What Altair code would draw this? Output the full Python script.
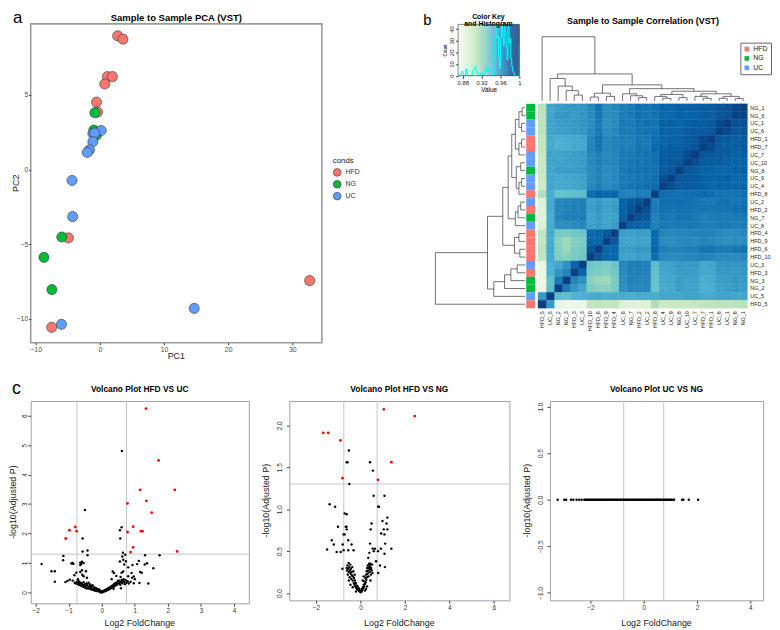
import altair as alt
import pandas as pd

FONT = "Liberation Sans"
COND_DOMAIN = ["HFD", "NG", "UC"]
COND_COLORS = ["#F8766D", "#00BA38", "#619CFF"]
GNBU = ["#f7fcf0", "#e0f3db", "#ccebc5", "#a8ddb5", "#7bccc4", "#4eb3d3", "#2b8cbe", "#0868ac", "#084081"]

# ---------------- panel a : PCA ----------------
PCA_HFD_PC1 = [2.78, 3.60, 1.19, 1.96, 0.77, -0.52, -0.36, -4.90, -7.50, 32.70]
PCA_HFD_PC2 = [8.96, 8.74, 6.23, 6.23, 5.73, 4.52, 3.85, -4.58, -10.57, -7.44]
PCA_NG_PC1 = [-0.77, -0.52, -0.93, -5.93, -8.71, -7.47]
PCA_NG_PC2 = [3.81, 2.31, 2.64, -4.52, -5.88, -8.04]
PCA_UC_PC1 = [0.21, -1.08, -0.80, -1.08, -1.60, -1.96, -4.33, -4.23, -5.98, 14.70]
PCA_UC_PC2 = [2.62, 2.42, 2.45, 1.87, 1.32, 1.15, -0.73, -3.15, -10.37, -9.30]

# ---------------- panel b : correlation heatmap ----------------
SAMPLES = ["NG_1", "NG_6", "UC_1", "UC_6", "HFD_1", "HFD_7", "UC_7", "UC_10", "NG_8",
           "UC_9", "UC_4", "HFD_8", "UC_2", "HFD_2", "NG_7", "UC_8", "HFD_4", "HFD_9",
           "HFD_6", "HFD_10", "UC_3", "HFD_3", "NG_3", "NG_2", "UC_5", "HFD_5"]
# correlation x 1000, rows/cols in SAMPLES order
CORR = [
    [1000, 988, 984, 983, 980, 980, 978, 977, 978, 976, 976, 972, 970, 972, 968, 966, 962, 960, 970, 962, 957, 956, 955, 954, 950, 910],
    [988, 1000, 983, 982, 978, 979, 977, 976, 978, 975, 975, 971, 969, 972, 968, 966, 961, 960, 969, 961, 956, 955, 956, 955, 950, 908],
    [984, 983, 1000, 987, 980, 979, 979, 978, 976, 978, 977, 970, 972, 970, 967, 968, 961, 959, 967, 960, 957, 955, 954, 953, 951, 907],
    [983, 982, 987, 1000, 981, 980, 980, 979, 976, 977, 977, 971, 971, 970, 967, 968, 962, 960, 968, 961, 956, 955, 953, 952, 951, 908],
    [980, 978, 980, 981, 1000, 986, 981, 979, 977, 977, 976, 973, 968, 969, 966, 966, 964, 962, 970, 963, 950, 949, 948, 947, 949, 906],
    [980, 979, 979, 980, 986, 1000, 982, 980, 977, 978, 977, 974, 968, 969, 965, 966, 964, 963, 970, 964, 949, 949, 947, 946, 949, 905],
    [978, 977, 979, 980, 981, 982, 1000, 985, 980, 980, 979, 972, 970, 969, 968, 968, 963, 961, 965, 962, 954, 953, 952, 951, 951, 903],
    [977, 976, 978, 979, 979, 980, 985, 1000, 982, 981, 980, 972, 971, 970, 969, 968, 963, 962, 965, 962, 954, 953, 952, 951, 951, 902],
    [978, 978, 976, 976, 977, 977, 980, 982, 1000, 981, 980, 971, 972, 971, 970, 968, 962, 961, 964, 961, 955, 954, 954, 953, 950, 902],
    [976, 975, 978, 977, 977, 978, 980, 981, 981, 1000, 985, 972, 971, 970, 968, 968, 962, 960, 964, 961, 952, 951, 950, 949, 950, 901],
    [976, 975, 977, 977, 976, 977, 979, 980, 980, 985, 1000, 973, 972, 971, 969, 969, 963, 961, 965, 962, 951, 950, 949, 948, 950, 900],
    [972, 971, 970, 971, 973, 974, 972, 972, 971, 972, 973, 1000, 966, 967, 964, 965, 975, 974, 976, 973, 940, 939, 937, 936, 948, 912],
    [970, 969, 972, 971, 968, 968, 970, 971, 972, 971, 972, 966, 1000, 984, 981, 976, 953, 951, 955, 952, 965, 964, 963, 962, 948, 887],
    [972, 972, 970, 970, 969, 969, 969, 970, 971, 970, 971, 967, 984, 1000, 983, 977, 954, 952, 956, 953, 966, 965, 964, 962, 948, 886],
    [968, 968, 967, 967, 966, 965, 968, 969, 970, 968, 969, 964, 981, 983, 1000, 978, 952, 950, 954, 951, 966, 965, 965, 963, 947, 886],
    [966, 966, 968, 968, 966, 966, 968, 968, 968, 968, 969, 965, 976, 977, 978, 1000, 953, 951, 954, 952, 962, 961, 960, 959, 948, 888],
    [962, 961, 961, 962, 964, 964, 963, 963, 962, 962, 963, 975, 953, 954, 952, 953, 1000, 981, 976, 975, 935, 933, 930, 932, 948, 906],
    [960, 960, 959, 960, 962, 963, 961, 962, 961, 960, 961, 974, 951, 952, 950, 951, 981, 1000, 975, 976, 930, 928, 918, 925, 947, 904],
    [970, 969, 967, 968, 970, 970, 965, 965, 964, 964, 965, 976, 955, 956, 954, 954, 976, 975, 1000, 982, 932, 930, 920, 927, 949, 907],
    [962, 961, 960, 961, 963, 964, 962, 962, 961, 961, 962, 973, 952, 953, 951, 952, 975, 976, 982, 1000, 934, 931, 926, 929, 948, 905],
    [957, 956, 957, 956, 950, 949, 954, 954, 955, 952, 951, 940, 965, 966, 966, 962, 935, 930, 932, 934, 1000, 976, 958, 950, 946, 879],
    [956, 955, 955, 955, 949, 949, 953, 953, 954, 951, 950, 939, 964, 965, 965, 961, 933, 928, 930, 931, 976, 1000, 963, 956, 945, 878],
    [955, 956, 954, 953, 948, 947, 952, 952, 954, 950, 949, 937, 963, 964, 965, 960, 930, 918, 920, 926, 958, 963, 1000, 967, 938, 877],
    [954, 955, 953, 952, 947, 946, 951, 951, 953, 949, 948, 936, 962, 962, 963, 959, 932, 925, 927, 929, 950, 956, 967, 1000, 940, 880],
    [950, 950, 951, 951, 949, 949, 951, 951, 950, 950, 950, 948, 948, 948, 947, 948, 948, 947, 949, 948, 946, 945, 938, 940, 1000, 955],
    [910, 908, 907, 908, 906, 905, 903, 902, 902, 901, 900, 912, 887, 886, 886, 888, 906, 904, 907, 905, 879, 878, 877, 880, 955, 1000],
]
SAMPLE_GROUP = [s.split("_")[0] for s in SAMPLES]

# hierarchical clustering tree: (left, right, merge height), heights relative to root
TREE = (
    (
        (
            (
                (
                    ((("NG_1", "NG_6", 0.035), ("UC_1", "UC_6", 0.04), 0.07),
                     (("HFD_1", "HFD_7", 0.04), "UC_7", 0.07), 0.11),
                    (("UC_10", "NG_8", 0.05), (("UC_9", "UC_4", 0.04), "HFD_8", 0.07), 0.10),
                    0.15),
                ((("UC_2", "HFD_2", 0.05), "NG_7", 0.08), "UC_8", 0.11),
                0.19),
            (("HFD_4", "HFD_9", 0.07), ("HFD_6", "HFD_10", 0.06), 0.12),
            0.25),
        (((("UC_3", "HFD_3", 0.09), "NG_3", 0.16), "NG_2", 0.23), "UC_5", 0.35),
        0.42),
    "HFD_5",
    1.0,
)

# ---------------- panel c : volcano plots ----------------
FC_CUTS = [-0.75, 0.75]
P_CUT = 1.3

V1_BLACK_FC = [0.61, -0.51, 0.60, 0.55, 0.56, -0.58, -0.58, -0.43, -0.43, 0.64, 0.71, 1.31, 1.75, -1.16,
               -1.17, -1.82, -0.92, -0.89, -0.86, -0.65, -0.60, -1.52, -1.42, -1.42, -1.04, -1.10, 0.65,
               0.73, 0.93, 1.07, 1.12, 1.37, 1.56, 1.21, 1.16, 0.90, 0.92, 0.97, 0.65, 0.60, 0.33, 0.37,
               0.44, 0.87, 0.97, 1.14, 1.41, 0.57, 0.55, -0.60, -0.65, -0.48, -0.59, -0.55, -0.77, -0.83,
               -0.97, -0.65, -0.62, 0.80, 0.68, 1.00, 0.80, -0.72, -0.45, 0.30, 0.50, 1.30, -0.55, 0.62,
               -0.82, -0.78, -0.75, -0.72, -0.70, -0.68, -0.66, -0.64, -0.62, -0.60, -0.58, -0.56, -0.55,
               -0.53, -0.51, -0.50, -0.48, -0.46, -0.45, -0.43, -0.41, -0.40, -0.38, -0.36, -0.35, -0.33,
               -0.31, -0.30, -0.28, -0.26, -0.25, -0.23, -0.21, -0.20, -0.18, -0.16, -0.15, -0.13, -0.11,
               -0.10, -0.08, -0.06, -0.05, -0.03, -0.02, -0.04, 0.00, 0.01, 0.02, 0.03, 0.04, 0.05, 0.07,
               0.09, 0.10, 0.12, 0.14, 0.15, 0.17, 0.19, 0.20, 0.22, 0.24, 0.26, 0.28, 0.30, 0.32, 0.34,
               0.36, 0.38, 0.40, 0.42, 0.44, 0.46, 0.48, 0.50, 0.52, 0.54, 0.56, 0.58, 0.60, 0.62, 0.64,
               0.66, 0.68, 0.70, 0.72, 0.75, 0.78, 0.82, -0.88, -0.70, -0.52, -0.34, 0.18, 0.36, 0.58]
V1_BLACK_P = [4.80, 2.80, 2.21, 2.11, 1.83, 1.83, 1.39, 1.42, 1.26, 1.35, 1.28, 1.26, 1.26, 1.24,
              1.09, 0.96, 0.98, 1.00, 0.97, 1.01, 1.04, 0.72, 0.72, 0.36, 0.39, 0.35, 1.11,
              1.06, 0.93, 0.96, 1.07, 0.99, 0.82, 0.67, 0.69, 0.66, 0.50, 0.54, 0.71, 0.67, 0.71, 0.66,
              0.56, 0.36, 0.31, 0.32, 0.30, 0.52, 1.05, 0.75, 0.69, 0.72, 0.60, 0.55, 0.67, 0.58,
              0.43, 0.93, 0.96, 0.85, 0.95, 0.45, 0.55, 0.45, 0.50, 0.45, 0.40, 0.95, 1.00, 1.22,
              0.33, 0.30, 0.36, 0.28, 0.32, 0.25, 0.34, 0.29, 0.22, 0.31, 0.26, 0.19, 0.35,
              0.24, 0.28, 0.16, 0.21, 0.30, 0.13, 0.25, 0.18, 0.33, 0.12, 0.22, 0.27, 0.15,
              0.10, 0.20, 0.24, 0.08, 0.14, 0.18, 0.06, 0.11, 0.15, 0.05, 0.09, 0.12, 0.04,
              0.07, 0.10, 0.03, 0.06, 0.02, 0.04, 0.00, 0.01, 0.00, 0.03, 0.01, 0.05, 0.02, 0.06,
              0.04, 0.08, 0.05, 0.10, 0.07, 0.12, 0.09, 0.15, 0.11, 0.17, 0.13, 0.20, 0.16, 0.23, 0.18,
              0.27, 0.21, 0.30, 0.24, 0.33, 0.27, 0.37, 0.30, 0.40, 0.33, 0.26, 0.36, 0.42, 0.31, 0.39,
              0.45, 0.35, 0.28, 0.41, 0.33, 0.38, 0.30, 0.40, 0.38, 0.18, 0.14, 0.08, 0.12, 0.14]
V1_RED_FC = [1.34, 1.72, 1.16, 2.21, 1.35, 0.78, 1.51, 0.95, 1.19, 1.23, 0.78, 0.95, 0.87, 2.28,
             -0.80, -0.98, -0.76, -1.09]
V1_RED_P = [6.24, 4.48, 3.48, 3.48, 3.11, 3.02, 2.71, 2.23, 2.08, 2.08, 2.05, 1.53, 1.37, 1.39,
            2.22, 2.11, 2.08, 1.83]

V2_BLACK_FC = [-0.52, -0.62, -0.58, -0.50, 0.43, 0.56, 0.59, 1.08, -1.39, -1.14, 0.80, 0.83, -0.71, -0.62,
               1.21, 0.99, 1.17, 0.50, -1.01, -0.66, -0.63, -0.62, 0.46, 1.05, 1.21, -0.71, -0.76, 0.93,
               1.08, -1.29, -0.55, 0.43, -1.20, -0.80, -0.40, -1.50, -0.76, -0.55, -0.31, -1.07, -0.89,
               0.55, 0.65, 0.60, 0.92, 1.11, 1.39, 1.08, 0.79, -0.81, 1.10, 0.80, 0.70, 0.35, 0.40, 0.88,
               -0.62, -0.60, -0.58, -0.57, -0.55, -0.53, -0.52, -0.50, -0.49, -0.47, -0.46, -0.44, -0.43,
               -0.41, -0.40, -0.38, -0.37, -0.35, -0.34, -0.32, -0.30, -0.29, -0.27, -0.25, -0.23, -0.21,
               -0.19, -0.17, -0.15, -0.13, -0.11, -0.09, -0.07, -0.05, -0.03, -0.01, 0.01, 0.03, 0.05,
               0.07, 0.09, 0.11, 0.13, 0.15, 0.17, 0.18, 0.20, 0.22, 0.23, 0.25, 0.26, 0.28, 0.29, 0.30,
               0.32, 0.33, 0.35, 0.36, 0.38, 0.39, 0.41, 0.42, 0.44, 0.45, 0.47, 0.48, 0.50, 0.52, 0.54,
               0.30, 0.25, 0.20, -0.20, -0.35, -0.45, 0.15, 0.10, -0.26, -0.52, 0.45]
V2_BLACK_P = [1.70, 1.56, 1.56, 1.30, 1.56, 1.46, 1.16, 1.16, 1.06, 1.03, 1.03, 1.03, 0.95, 0.94,
              0.90, 0.86, 0.83, 0.83, 0.79, 0.79, 0.79, 0.76, 0.76, 0.76, 0.76, 0.70, 0.70, 0.71,
              0.70, 0.63, 0.63, 0.59, 0.58, 0.58, 0.58, 0.52, 0.51, 0.51, 0.51, 0.49, 0.49,
              0.53, 0.53, 0.50, 0.53, 0.59, 0.53, 0.47, 0.50, 0.29, 0.31, 0.24, 0.38, 0.42, 0.48, 0.33,
              0.30, 0.27, 0.33, 0.22, 0.29, 0.36, 0.25, 0.31, 0.19, 0.27, 0.34, 0.23, 0.29,
              0.17, 0.25, 0.21, 0.31, 0.15, 0.20, 0.26, 0.12, 0.18, 0.10, 0.15, 0.08, 0.12,
              0.06, 0.09, 0.05, 0.08, 0.04, 0.06, 0.03, 0.05, 0.02, 0.03, 0.01, 0.03, 0.02,
              0.05, 0.04, 0.07, 0.06, 0.10, 0.08, 0.14, 0.11, 0.18, 0.13, 0.22, 0.16, 0.26, 0.19, 0.30,
              0.23, 0.33, 0.27, 0.20, 0.30, 0.35, 0.25, 0.32, 0.28, 0.35, 0.22, 0.30, 0.27, 0.34, 0.24,
              0.08, 0.05, 0.03, 0.02, 0.07, 0.10, 0.20, 0.15, 0.22, 0.15, 0.15]
V2_RED_FC = [-1.67, -1.45, -0.90, -0.81, 1.05, 2.44, 1.39, 0.79]
V2_RED_P = [1.91, 1.91, 1.82, 1.37, 2.19, 2.11, 1.56, 1.35]

V3_FC = [-3.23, -2.98, -2.91, -2.73, -2.64, -2.52, -2.42, -2.33, -2.23, -2.19, -2.14, -2.10, -2.05,
         -2.01, -1.96, -1.92, -1.87, -1.83, -1.78, -1.74, -1.69, -1.65, -1.60, -1.56, -1.51, -1.47,
         -1.42, -1.38, -1.33, -1.29, -1.24, -1.20, -1.15, -1.11, -1.06, -1.02, -0.97, -0.93, -0.88,
         -0.84, -0.79, -0.75, -0.70, -0.66, -0.61, -0.57, -0.52, -0.48, -0.43, -0.39, -0.34, -0.30,
         -0.25, -0.21, -0.16, -0.12, -0.07, -0.03, 0.02, 0.06, 0.11, 0.15, 0.20, 0.24, 0.29, 0.33,
         0.38, 0.42, 0.47, 0.51, 0.56, 0.60, 0.65, 0.69, 0.74, 0.78, 0.83, 0.87, 0.92, 0.96, 1.01,
         1.05, 1.10, 1.14, 1.44, 1.49, 1.69, 2.04]
V3_P = [0.0] * len(V3_FC)  # every adjusted P reads as 1 (-log10 = 0)

ONE = pd.DataFrame({"k": [0]})


def text_at(txt, x, y, size, weight="normal", align="left", color="black", baseline="alphabetic", angle=0):
    return alt.Chart(ONE).mark_text(text=txt, fontSize=size, fontWeight=weight, align=align,
                                    baseline=baseline, color=color, font=FONT, angle=angle).encode(
        x=alt.value(x), y=alt.value(y))


def anchor(x, y):
    # invisible 1px box that pins the layout bounds
    return alt.Chart(ONE).mark_rect(fill="transparent", strokeWidth=0).encode(
        x=alt.value(x), x2=alt.value(x + 1), y=alt.value(y), y2=alt.value(y + 1))


# ---------- PCA chart ----------
pca_rows = []
for cond, xs, ys in (("HFD", PCA_HFD_PC1, PCA_HFD_PC2), ("NG", PCA_NG_PC1, PCA_NG_PC2),
                     ("UC", PCA_UC_PC1, PCA_UC_PC2)):
    for a, b in zip(xs, ys):
        pca_rows.append({"conds": cond, "PC1": a, "PC2": b})
pca_df = pd.DataFrame(pca_rows)

PCA_W, PCA_H = 295, 323

pca_xaxis = alt.Axis(title=None, values=[-10, 0, 10, 20, 30], grid=False, domain=False, tickSize=2,
                     tickColor="#333333", labelColor="#4d4d4d", labelFontSize=7, labelPadding=0.5)
pca_yaxis = alt.Axis(title=None, values=[-10, -5, 0, 5], grid=False, domain=False, tickSize=2,
                     tickColor="#333333", labelColor="#4d4d4d", labelFontSize=7, labelPadding=1)

pca_pts = alt.Chart(pca_df).mark_circle(size=105, stroke="#333333", strokeWidth=0.6, opacity=1).encode(
    x=alt.X("PC1:Q", scale=alt.Scale(domain=[-10.77, 34.6], nice=False, zero=False), axis=pca_xaxis),
    y=alt.Y("PC2:Q", scale=alt.Scale(domain=[-11.6, 9.76], nice=False, zero=False), axis=pca_yaxis),
    fill=alt.Fill("conds:N", scale=alt.Scale(domain=COND_DOMAIN, range=COND_COLORS),
                  legend=alt.Legend(title="conds", orient="none", legendX=306, legendY=135,
                                    symbolType="circle", symbolSize=60, symbolStrokeColor="#333333",
                                    symbolStrokeWidth=0.6, symbolOpacity=1, labelFontSize=7,
                                    labelColor="#333333", titleFontSize=8, titleFontWeight="normal",
                                    titleColor="#222222", rowPadding=1, titlePadding=3)),
)
pca = alt.layer(
    pca_pts,
    anchor(-30, -20),
    anchor(-30, PCA_H + 25),
    text_at("a", -18, -1, 17),
    text_at("Sample to Sample PCA (VST)", PCA_W / 2, -3, 9.6, "bold", "center"),
    text_at("PC1", PCA_W / 2, 336, 9, align="center", color="#222222", baseline="middle"),
    text_at("PC2", -14.5, PCA_H / 2, 9, align="center", color="#222222", baseline="middle", angle=270),
).properties(width=PCA_W, height=PCA_H, view=alt.ViewBackground(stroke="#9a9a9a", strokeWidth=1.6))

# ---------- heatmap panel ----------
N = len(SAMPLES)
cells = []
for i in range(N):
    for k in range(N):
        j = N - 1 - k
        cells.append({"r0": i, "r1": i + 1, "c0": j, "c1": j + 1, "r": CORR[i][k] / 1000.0})
cells_df = pd.DataFrame(cells)

lab_df = pd.DataFrame({"name": SAMPLES,
                       "pm": [i + 0.5 for i in range(N)],
                       "cm": [N - 1 - i + 0.5 for i in range(N)],
                       "r0": list(range(N)), "r1": [i + 1 for i in range(N)],
                       "group": SAMPLE_GROUP})

leaf_pos = {s: i + 0.5 for i, s in enumerate(SAMPLES)}
segs = []


def walk(node):
    if isinstance(node, str):
        return leaf_pos[node], 0.0
    left, right, h = node
    pl, hl = walk(left)
    pr, hr = walk(right)
    segs.append({"h1": h, "h2": h, "p1": pl, "p2": pr})
    segs.append({"h1": hl, "h2": h, "p1": pl, "p2": pl})
    segs.append({"h1": hr, "h2": h, "p1": pr, "p2": pr})
    return (pl + pr) / 2.0, h


walk(TREE)
seg_df = pd.DataFrame(segs)
seg_df["cp1"] = N - seg_df["p1"]
seg_df["cp2"] = N - seg_df["p2"]

PANEL_H = 288
KEY_TOP, KEY_BOT = 0.5, 52.5
KEY_MIN, KEY_MAX = 0.87, 1.0
COLOR_MAX = 0.99
HM_X = alt.Scale(domain=[0, N], range=[108, 320], nice=False, zero=False)
HM_Y = alt.Scale(domain=[0, N], range=[81, PANEL_H], nice=False, zero=False)
FILL = alt.Scale(domain=[KEY_MIN + i * (COLOR_MAX - KEY_MIN) / 8 for i in range(9)], range=GNBU,
                 clamp=True, interpolate="rgb")
KEY_X = alt.Scale(domain=[KEY_MIN, KEY_MAX], range=[27, 89], nice=False, zero=False)
KEY_Y = alt.Scale(domain=[0, 44], range=[KEY_BOT, KEY_TOP], nice=False, zero=False)

heat_cells = alt.Chart(cells_df).mark_rect(strokeWidth=0.4).encode(
    x=alt.X("c0:Q", scale=HM_X, axis=None), x2="c1:Q",
    y=alt.Y("r0:Q", scale=HM_Y, axis=None), y2="r1:Q",
    fill=alt.Fill("r:Q", scale=FILL, legend=None),
    stroke=alt.Stroke("r:Q", scale=FILL, legend=None),
)
annot = alt.Chart(lab_df).mark_rect().encode(
    x=alt.value(96), x2=alt.value(105),
    y=alt.Y("r0:Q", scale=HM_Y, axis=None), y2="r1:Q",
    color=alt.Color("group:N", scale=alt.Scale(domain=COND_DOMAIN, range=COND_COLORS),
                    legend=alt.Legend(title=None, orient="none", legendX=313, legendY=19,
                                      symbolType="square", symbolSize=22, symbolStrokeWidth=0,
                                      labelFontSize=7, labelColor="#222222", rowPadding=1.5,
                                      padding=3, strokeColor="#666666", labelOffset=3)),
)
row_dendro = alt.Chart(seg_df).mark_rule(color="#333333", strokeWidth=0.7).encode(
    x=alt.X("h1:Q", scale=alt.Scale(domain=[0, 1], range=[95, 4], nice=False, zero=False), axis=None),
    x2="h2:Q",
    y=alt.Y("p1:Q", scale=HM_Y, axis=None), y2="p2:Q",
)
col_dendro = alt.Chart(seg_df).mark_rule(color="#333333", strokeWidth=0.7).encode(
    x=alt.X("cp1:Q", scale=HM_X, axis=None), x2="cp2:Q",
    y=alt.Y("h1:Q", scale=alt.Scale(domain=[0, 1], range=[78, 13], nice=False, zero=False), axis=None),
    y2="h2:Q",
)
row_lab = alt.Chart(lab_df).mark_text(fontSize=5.5, align="left", baseline="middle", color="#222222").encode(
    x=alt.value(323), y=alt.Y("pm:Q", scale=HM_Y, axis=None), text="name:N")
col_lab = alt.Chart(lab_df).mark_text(fontSize=5.5, align="right", baseline="middle", angle=270,
                                      color="#222222").encode(
    x=alt.X("cm:Q", scale=HM_X, axis=None), y=alt.value(PANEL_H + 3), text="name:N")

key_grad = alt.Chart(alt.sequence(KEY_MIN, KEY_MAX, 0.0005, as_="v")).transform_calculate(
    v2="datum.v + 0.0007"
).mark_rect().encode(
    x=alt.X("v:Q", scale=KEY_X,
            axis=alt.Axis(orient="bottom", offset=KEY_BOT - PANEL_H, values=[0.88, 0.92, 0.96, 1.0],
                          labelExpr="datum.value > 0.999 ? '1' : format(datum.value, '.2f')",
                          title="Value", titleFontSize=6.5, titleFontWeight="normal", titlePadding=2,
                          labelFontSize=6, labelColor="#222222", tickSize=2.5, tickColor="#333333",
                          domain=False, grid=False, labelPadding=1, labelFlush=False)),
    x2="v2:Q", y=alt.value(KEY_TOP), y2=alt.value(KEY_BOT),
    fill=alt.Fill("v:Q", scale=FILL, legend=None),
)
key_hist = alt.Chart(cells_df).transform_calculate(
    k="floor((datum.r - 0.87) / 0.002 + 0.000001)"
).transform_aggregate(
    n="count()", groupby=["k"]
).transform_impute(
    impute="n", key="k", keyvals=alt.ImputeSequence(start=0, stop=66), value=0
).transform_calculate(
    v="0.87 + datum.k * 0.002"
).mark_line(interpolate="step-after", color="#00FFFF", strokeWidth=1).encode(
    x=alt.X("v:Q", scale=KEY_X, axis=None),
    y=alt.Y("n:Q", scale=KEY_Y,
            axis=alt.Axis(orient="left", offset=-27, values=[0, 10, 20, 30, 40], title="Count",
                          titleFontSize=4.5, titleFontWeight="normal", titlePadding=1,
                          labelFontSize=6, labelAngle=-90, labelColor="#222222", tickSize=2.5,
                          tickColor="#333333", domain=False, grid=False, labelPadding=1)),
)
key_box = alt.Chart(ONE).mark_rect(fill="transparent", stroke="#333333", strokeWidth=0.6).encode(
    x=alt.value(27), x2=alt.value(89), y=alt.value(KEY_TOP), y2=alt.value(KEY_BOT))

heat = alt.layer(
    key_grad, key_hist, key_box, heat_cells, annot, row_dendro, col_dendro, row_lab, col_lab,
    text_at("b", -8.3, 1, 15),
    text_at("Color Key", 57.7, -5.4, 7, "bold", "center"),
    text_at("and Histogram", 57.7, 2.2, 7, "bold", "center"),
    text_at("Sample to Sample Correlation (VST)", 214.3, 0.3, 9, "bold", "center"),
).resolve_scale(x="independent", y="independent").properties(
    width=320, height=PANEL_H, view=alt.ViewBackground(stroke="transparent", strokeWidth=0))


# ---------- volcano charts ----------
def volcano(title, bx, by, rx, ry, xdom, ydom, xvals, yvals, yfmt, width, height,
            ylab_pad, ytitle_x, show_h=True, letter=False):
    xs = alt.Scale(domain=xdom, nice=False, zero=False)
    ys = alt.Scale(domain=ydom, nice=False, zero=False)
    xa = alt.Axis(title=None, values=xvals, grid=False, domain=False, tickSize=3,
                  tickColor="#444444", labelFontSize=6.5, labelColor="#333333", labelPadding=1)
    ya = alt.Axis(title=None, values=yvals, format=yfmt, grid=False, domain=False,
                  tickSize=3, tickColor="#444444", labelFontSize=6.5, labelColor="#333333",
                  labelAngle=-90, labelPadding=ylab_pad)
    layers = [alt.Chart(pd.DataFrame({"fc": FC_CUTS})).mark_rule(color="#c4c4c4", strokeWidth=1).encode(
        x=alt.X("fc:Q", scale=xs, axis=xa))]
    if show_h:
        layers.append(alt.Chart(pd.DataFrame({"p": [P_CUT]})).mark_rule(color="#c4c4c4", strokeWidth=1).encode(
            y=alt.Y("p:Q", scale=ys, axis=ya)))
    layers.append(alt.Chart(pd.DataFrame({"fc": bx, "p": by})).mark_circle(size=6, color="black", opacity=1).encode(
        x=alt.X("fc:Q", scale=xs, axis=xa), y=alt.Y("p:Q", scale=ys, axis=ya)))
    if rx:
        layers.append(alt.Chart(pd.DataFrame({"fc": rx, "p": ry})).mark_circle(size=8, color="#FF0000",
                                                                              opacity=1).encode(
            x=alt.X("fc:Q", scale=xs, axis=xa), y=alt.Y("p:Q", scale=ys, axis=ya)))
    layers.append(text_at(title, width / 2, -9.5, 8.5, "bold", "center"))
    layers.append(text_at("Log2 FoldChange", width / 2, 225, 9, align="center", color="#222222",
                          baseline="middle"))
    layers.append(text_at("-log10(Adjusted P)", ytitle_x, height / 2, 9, align="center", color="#222222",
                          baseline="middle", angle=270))
    if letter:
        layers.append(text_at("c", -19, -7, 18))
        layers.append(anchor(-36, -25))
    return alt.layer(*layers).properties(
        width=width, height=height,
        view=alt.ViewBackground(stroke="#a0a0a0", strokeWidth=1),
    )


v1 = volcano("Volcano Plot HFD VS UC", V1_BLACK_FC, V1_BLACK_P, V1_RED_FC, V1_RED_P,
             [-2.15, 4.45], [-0.37, 6.5], [-2, -1, 0, 1, 2, 3, 4], [0, 1, 2, 3, 4, 5, 6], "d",
             221, 205, 0, -18, letter=True)
v2 = volcano("Volcano Plot HFD VS NG", V2_BLACK_FC, V2_BLACK_P, V2_RED_FC, V2_RED_P,
             [-3.2, 6.7], [-0.086, 2.29], [-2, 0, 2, 4, 6], [0, 0.5, 1.0, 1.5, 2.0], ".1f",
             223, 202, 4, -24)
v3 = volcano("Volcano Plot UC VS NG", V3_FC, V3_P, [], [],
             [-3.52, 4.48], [-1.08, 1.06], [-2, 0, 2, 4], [-1.0, -0.5, 0, 0.5, 1.0], ".1f",
             216, 202, 3, -23, show_h=False)

top = alt.hconcat(pca, heat, spacing=111, bounds="flush").resolve_scale(fill="independent", color="independent")
bottom = alt.hconcat(v1, v2, v3, spacing=41, bounds="flush")

chart = alt.vconcat(top, bottom, spacing=6).resolve_scale(
    fill="independent", color="independent"
).properties(
    padding={"left": -14, "top": -9, "right": 0, "bottom": 0}
).configure(font=FONT).configure_view(strokeWidth=0)

chart.save("out.html", embed_options={"renderer": "svg", "actions": False})
